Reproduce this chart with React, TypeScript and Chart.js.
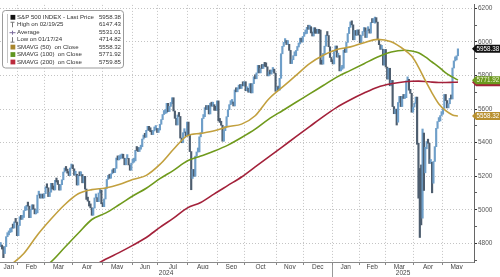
import { useEffect, useRef } from "react";
import { Chart, registerables } from "chart.js";
Chart.register(...registerables);

// ---------- DATA ----------
// Daily closes, trading-day index 0 = 2024-01-09
const closes2024 = [
  4756.5, 4783.45, 4780.24, 4783.83, 4765.98, 4739.21, 4780.94, 4839.81, 4850.43, 4864.6, 4868.55, 4894.16, 4890.97, 4927.93, 4924.97, 4845.65,
  4906.19, 4958.61, 4942.81, 4954.23, 4995.06, 4997.91, 5026.61, 5021.84, 4953.17, 5000.62, 5029.73, 5005.57, 4975.51, 4981.8, 5087.03, 5088.8, 5069.53, 5078.18, 5069.76, 5096.27,
  5137.08, 5130.95, 5078.65, 5104.76, 5157.36, 5123.69, 5117.94, 5175.27, 5165.31, 5150.48, 5117.09, 5149.42, 5178.51, 5224.62, 5241.53, 5234.18, 5218.19, 5203.58, 5248.49, 5254.35,
  5243.77, 5205.81, 5211.49, 5147.21, 5204.34, 5202.39, 5209.91, 5160.64, 5199.06, 5123.41, 5061.82, 5051.41, 5022.21, 5011.12, 4967.23, 5010.6, 5070.55, 5071.63, 5048.42, 5099.96, 5116.17, 5035.69,
  5018.39, 5064.2, 5127.79, 5180.74, 5187.7, 5187.67, 5214.08, 5222.68, 5221.42, 5246.68, 5308.15, 5297.1, 5303.27, 5308.13, 5321.41, 5307.01, 5267.84, 5304.72, 5306.04, 5266.95, 5235.48, 5277.51,
  5283.4, 5291.34, 5354.03, 5352.96, 5346.99, 5360.79, 5375.32, 5421.03, 5433.74, 5431.6, 5473.23, 5487.03, 5473.17, 5464.62, 5447.87, 5469.3, 5477.9, 5482.87, 5460.48,
  5475.09, 5509.01, 5537.02, 5567.19, 5572.85, 5576.98, 5633.91, 5584.54, 5615.35, 5631.22, 5667.2, 5588.27, 5544.59, 5505.0, 5564.41, 5555.74, 5427.13, 5399.22, 5459.1, 5463.54, 5436.44, 5522.3,
  5446.68, 5346.56, 5186.33, 5240.03, 5199.5, 5319.31, 5344.16, 5344.39, 5434.43, 5455.21, 5543.22, 5554.25, 5608.25, 5597.12, 5620.85, 5570.64, 5634.61, 5616.84, 5625.8, 5592.18, 5591.96, 5648.4,
  5528.93, 5520.07, 5503.41, 5408.42, 5471.05, 5495.52, 5554.13, 5595.76, 5626.02, 5633.09, 5634.58, 5618.26, 5713.64, 5702.55, 5718.57, 5732.93, 5722.26, 5745.37, 5738.17, 5762.48,
  5708.75, 5709.54, 5699.94, 5751.07, 5695.94, 5751.13, 5792.04, 5780.05, 5815.03, 5859.85, 5815.26, 5842.47, 5841.47, 5864.67, 5853.98, 5851.2, 5797.42, 5809.86, 5808.12, 5823.52, 5832.92, 5813.67, 5705.45,
  5728.8, 5712.69, 5782.76, 5929.04, 5973.1, 5995.54, 6001.35, 5983.99, 5985.38, 5949.17, 5870.62, 5893.62, 5916.98, 5917.11, 5948.71, 5969.34, 5987.37, 6021.63, 5998.74, 6032.38,
  6047.15, 6049.88, 6086.49, 6075.11, 6090.27, 6052.85, 6034.91, 6084.19, 6051.25, 6051.09, 6074.08, 6050.61, 5872.16, 5867.08, 5930.85, 5974.07, 6040.04, 6037.59, 5970.84, 5906.94, 5881.63,
];
const closes2025 = [
  5868.55, 5942.47, 5975.38, 5909.03, 5918.25, 5827.04, 5836.22, 5842.91, 5949.91, 5937.34, 5996.66, 6049.24, 6086.37, 6118.71, 6101.24, 6012.28, 6067.7, 6039.31, 6071.17, 6040.53,
  5994.57, 6037.88, 6061.48, 6083.57, 6025.99, 6066.44, 6068.5, 6051.97, 6115.07, 6114.63, 6129.58, 6144.15, 6117.52, 6013.13, 5983.25, 5955.25, 5956.06, 5861.57, 5954.5,
  5849.72, 5778.15, 5842.63, 5738.52, 5770.2, 5614.56, 5572.07, 5599.3, 5521.52, 5638.94, 5675.12, 5614.66, 5675.29, 5662.89, 5667.56, 5767.57, 5776.65, 5712.2, 5693.31, 5580.94, 5611.85,
  5633.07, 5670.97, 5396.52, 5074.08, 5062.25, 4982.77, 5456.9, 5268.05, 5363.36, 5405.97, 5396.63, 5275.7, 5282.7, 5158.2, 5287.76, 5375.86, 5484.77, 5525.21, 5528.75, 5560.83, 5569.06,
  5604.14, 5686.67, 5650.38, 5606.91, 5631.28, 5663.94, 5659.91, 5844.19, 5886.55, 5892.58, 5916.93, 5958.38,
];
const firstOpen = 4741.9;

// wide intraday ranges on selected days (trading-day index)
const spikeIdx = [5, 143, 238, 278, 294, 309, 310, 311, 312, 313, 314, 315, 320];
const spikeLow = [4714.82, 5119.26, 5867, 6111, 5504.65, 5390, 5069, 4835.04, 4910, 4950, 5115, 5220, 5101];
const spikeHigh = [4780, 5312, 6070, 6147.43, 5597, 5500, 5292, 5246, 5267, 5481, 5400, 5372, 5232];

// moving averages, sampled at trading-day indices
const smaIdx = [0, 10, 20, 30, 40, 50, 60, 70, 80, 90, 100, 110, 120, 130, 140, 150, 160, 170, 180, 190, 200, 210, 220, 230, 240, 250, 260, 270, 280, 290, 300, 305, 310, 315, 320, 325, 330, 335, 339];
const sma50 = [4620, 4670, 4740, 4850, 4945, 5030, 5095, 5120, 5130, 5150, 5180, 5205, 5270, 5360, 5440, 5455, 5470, 5495, 5510, 5560, 5660, 5730, 5800, 5870, 5920, 5955, 5970, 5995, 6015, 6000, 5950, 5915, 5850, 5770, 5695, 5630, 5590, 5565, 5558];
const sma100 = [4520, 4555, 4600, 4640, 4690, 4775, 4860, 4942, 4980, 5030, 5082, 5128, 5185, 5235, 5290, 5320, 5350, 5385, 5430, 5480, 5540, 5590, 5640, 5690, 5740, 5790, 5830, 5870, 5910, 5940, 5950, 5945, 5935, 5910, 5880, 5850, 5815, 5790, 5772];
const sma200 = [4390, 4420, 4450, 4490, 4530, 4570, 4615, 4660, 4705, 4745, 4788, 4835, 4895, 4950, 5010, 5043, 5095, 5145, 5195, 5255, 5315, 5375, 5435, 5495, 5555, 5610, 5655, 5695, 5730, 5750, 5762, 5765, 5766, 5764, 5760, 5758, 5758, 5759, 5760];

// axis
const monthNames = ["Jan", "Feb", "Mar", "Apr", "May", "Jun", "Jul", "Aug", "Sep", "Oct", "Nov", "Dec", "Jan", "Feb", "Mar", "Apr", "May"];
const monthStarts = [0, 16, 36, 56, 78, 100, 119, 141, 163, 183, 206, 226, 247, 267, 286, 307, 328, 349];
const yearNames = ["2024", "2025"];
const yTicks = [4700, 4800, 4900, 5000, 5100, 5200, 5300, 5400, 5500, 5600, 5700, 5800, 5900, 6000, 6100, 6200];

// legend
const legendNames = ["S&P 500 INDEX - Last Price", "High on 02/19/25", "Average", "Low on 01/17/24", "SMAVG (50)  on Close", "SMAVG (100)  on Close", "SMAVG (200)  on Close"];
const legendValues = ["5958.38", "6147.43", "5531.01", "4714.82", "5558.32", "5771.92", "5759.85"];

const X_MIN = 2.5;
const X_MAX = 350.8;
const Y_MIN = 4689;
const Y_MAX = 6220;

const UP = "#6f9fc9";
const DOWN = "#4d5d6e";
const C50 = "#c2a03e";
const C100 = "#6f9a1c";
const C200 = "#a3213a";
const FONT = '"Liberation Sans", Arial, sans-serif';

export default function App() {
  const ref = useRef<HTMLCanvasElement | null>(null);
  useEffect(() => {
    const canvas = ref.current;
    if (!canvas) return;
    const closes = [...closes2024, ...closes2025];
    const bars = closes.map((c, i) => {
      const prev = i === 0 ? firstOpen : closes[i - 1];
      let lo = Math.min(prev, c);
      let hi = Math.max(prev, c);
      const k = spikeIdx.indexOf(i);
      if (k >= 0) {
        lo = Math.min(lo, spikeLow[k]);
        hi = Math.max(hi, spikeHigh[k]);
      }
      return { x: i, y: [lo, hi] };
    });
    const barColors = closes.map((c, i) => (c >= (i === 0 ? firstOpen : closes[i - 1]) ? UP : DOWN));
    const bounds = monthStarts.slice(1, -1).map((v) => v - 0.5);
    const monthMids = monthNames.map((_, i) => (Math.max(monthStarts[i] - 0.5, X_MIN) + monthStarts[i + 1] - 0.5) / 2);
    const yearBound = monthStarts[12] - 0.5;
    const yearMids = [(X_MIN + yearBound) / 2, (yearBound + X_MAX) / 2];

    const line = (label: string, vals: number[], color: string) => ({
      type: "line" as const,
      label,
      data: smaIdx.map((x, i) => ({ x, y: vals[i] })),
      borderColor: color,
      borderWidth: 1.6,
      pointRadius: 0,
      cubicInterpolationMode: "monotone" as const,
      order: 0,
      xAxisID: "x",
      yAxisID: "y",
    });

    const overlay = {
      id: "overlay",
      afterDraw(chart: any) {
        const ctx = chart.ctx as CanvasRenderingContext2D;
        const ys = chart.scales.y;
        const xs = chart.scales.x;
        ctx.save();
        // year divider
        const xd = Math.round(xs.getPixelForValue(yearBound)) + 0.5;
        ctx.strokeStyle = "#999";
        ctx.lineWidth = 1;
        ctx.beginPath();
        ctx.moveTo(xd, 265);
        ctx.lineTo(xd, 277);
        ctx.stroke();

        // legend box
        const bx = 2.5, by = 10.5, bw = 121, bh = 57.5;
        ctx.fillStyle = "#fff";
        ctx.strokeStyle = "#9a9a9a";
        ctx.beginPath();
        (ctx as any).roundRect(bx, by, bw, bh, 3);
        ctx.fill();
        ctx.stroke();
        ctx.strokeStyle = "#c4c4c4";
        ctx.beginPath();
        ctx.moveTo(7.5, 14);
        ctx.lineTo(7.5, 63);
        ctx.stroke();
        ctx.font = `6.1px ${FONT}`;
        ctx.textBaseline = "middle";
        const rowY = (i: number) => 17.3 + i * 7.45;
        const sqColors = ["#111", "", "", "", "#a8862c", "#5f9621", "#bb2a3c"];
        legendNames.forEach((name, i) => {
          const cy = rowY(i);
          if (sqColors[i]) {
            ctx.fillStyle = sqColors[i];
            ctx.fillRect(10.5, cy - 2.4, 4.8, 4.8);
          } else if (i === 1) {
            ctx.strokeStyle = "#777";
            ctx.beginPath();
            ctx.moveTo(12.5, cy - 2.5);
            ctx.lineTo(12.5, cy + 2.5);
            ctx.moveTo(10.5, cy - 2.5);
            ctx.lineTo(14.5, cy - 2.5);
            ctx.stroke();
          } else if (i === 2) {
            ctx.strokeStyle = "#7a6a9c";
            ctx.beginPath();
            ctx.moveTo(9.5, cy + 0.5);
            ctx.lineTo(15.5, cy + 0.5);
            ctx.moveTo(12.5, cy - 1.5);
            ctx.lineTo(12.5, cy + 2.5);
            ctx.stroke();
          } else if (i === 3) {
            ctx.strokeStyle = "#777";
            ctx.beginPath();
            ctx.moveTo(12.5, cy - 2.5);
            ctx.lineTo(12.5, cy + 2.5);
            ctx.moveTo(10.5, cy + 2.5);
            ctx.lineTo(14.5, cy + 2.5);
            ctx.stroke();
          }
          ctx.fillStyle = "#333";
          ctx.textAlign = "left";
          ctx.fillText(name, 17, cy);
          ctx.textAlign = "right";
          ctx.fillText(legendValues[i], 121, cy);
        });

        // price tags on right axis
        const tags = [
          { v: 5759.85, bg: "#a3213a", fg: "#fff", t: legendValues[6] },
          { v: 5771.92, bg: "#6b9a1e", fg: "#f4f4d8", t: legendValues[5] },
          { v: 5558.32, bg: "#b8902e", fg: "#fff", t: legendValues[4] },
          { v: 5958.38, bg: "#111", fg: "#fff", t: legendValues[0] },
        ];
        ctx.font = `6.3px ${FONT}`;
        ctx.textAlign = "left";
        tags.forEach((tg) => {
          const cy = ys.getPixelForValue(tg.v);
          ctx.fillStyle = tg.bg;
          ctx.beginPath();
          ctx.moveTo(472, cy);
          ctx.lineTo(476, cy - 4);
          ctx.lineTo(500, cy - 4);
          ctx.lineTo(500, cy + 4);
          ctx.lineTo(476, cy + 4);
          ctx.closePath();
          ctx.fill();
          ctx.fillStyle = tg.fg;
          ctx.fillText(tg.t, 476.5, cy + 0.3);
        });
        ctx.restore();
      },
    };

    const chart = new Chart(canvas, {
      type: "bar",
      data: {
        datasets: [
          line("SMAVG (50)", sma50, C50),
          line("SMAVG (100)", sma100, C100),
          line("SMAVG (200)", sma200, C200),
          {
            type: "bar" as const,
            label: "S&P 500 INDEX",
            data: bars as any,
            backgroundColor: barColors,
            barThickness: 1.5,
            minBarLength: 4,
            order: 5,
            xAxisID: "x",
            yAxisID: "y",
          },
        ] as any,
      },
      options: {
        animation: false,
        responsive: false,
        maintainAspectRatio: false,
        devicePixelRatio: 1,
        layout: { padding: 0 },
        events: [],
        plugins: { legend: { display: false }, tooltip: { enabled: false } },
        scales: {
          x: {
            type: "linear",
            position: "bottom",
            min: X_MIN,
            max: X_MAX,
            offset: false,
            afterBuildTicks: (s: any) => {
              s.ticks = bounds.map((v) => ({ value: v }));
            },
            afterFit: (s: any) => {
              s.height = 0;
            },
            ticks: { display: false },
            grid: { offset: false, color: "#c4c4c4", tickColor: "#888", tickLength: 3, tickBorderDash: [] } as any,
            border: { display: true, color: "#8a8a8a", width: 1, dash: [1, 2] },
          },
          xm: {
            type: "linear",
            position: "bottom",
            min: X_MIN,
            max: X_MAX,
            offset: false,
            afterBuildTicks: (s: any) => {
              s.ticks = monthMids.map((v) => ({ value: v }));
            },
            afterFit: (s: any) => {
              s.height = 7;
            },
            ticks: {
              autoSkip: false,
              maxRotation: 0,
              minRotation: 0,
              padding: 1,
              color: "#444",
              font: { family: FONT, size: 6.5 },
              callback: (_v: any, i: number) => monthNames[i],
            },
            grid: { display: false, drawTicks: false },
            border: { display: false },
          },
          xy: {
            type: "linear",
            position: "bottom",
            min: X_MIN,
            max: X_MAX,
            offset: false,
            afterBuildTicks: (s: any) => {
              s.ticks = yearMids.map((v) => ({ value: v }));
            },
            afterFit: (s: any) => {
              s.height = 8;
            },
            ticks: {
              autoSkip: false,
              maxRotation: 0,
              minRotation: 0,
              padding: 0,
              color: "#444",
              font: { family: FONT, size: 6.5 },
              callback: (_v: any, i: number) => yearNames[i],
            },
            grid: { display: false, drawTicks: false },
            border: { display: false },
          },
          y: {
            type: "linear",
            position: "right",
            min: Y_MIN,
            max: Y_MAX,
            beginAtZero: false,
            afterBuildTicks: (s: any) => {
              s.ticks = yTicks.map((v) => ({ value: v }));
            },
            afterFit: (s: any) => {
              s.width = 26;
            },
            ticks: {
              padding: 1,
              color: "#555",
              font: { family: FONT, size: 6.5 },
              callback: (v: any) => (Number(v) % 200 === 0 ? String(v) : ""),
            },
            grid: {
              color: (c: any) => (c.tick && c.tick.value % 200 === 0 ? "#c4c4c4" : "rgba(0,0,0,0)"),
              tickColor: "#333",
              tickLength: 3,
              tickWidth: (c: any) => (c.tick && c.tick.value % 200 === 0 ? 1.2 : 0.8),
              tickBorderDash: [],
            } as any,
            border: { display: true, color: "#666", width: 1, dash: [1, 2] },
          },
        },
      } as any,
      plugins: [overlay],
    });
    return () => chart.destroy();
  }, []);
  return (
    <div style={{ position: "absolute", left: 0, top: 0, width: 500, height: 277, background: "#fff" }}>
      <canvas ref={ref} width={500} height={277} style={{ display: "block", width: 500, height: 277 }} />
    </div>
  );
}
